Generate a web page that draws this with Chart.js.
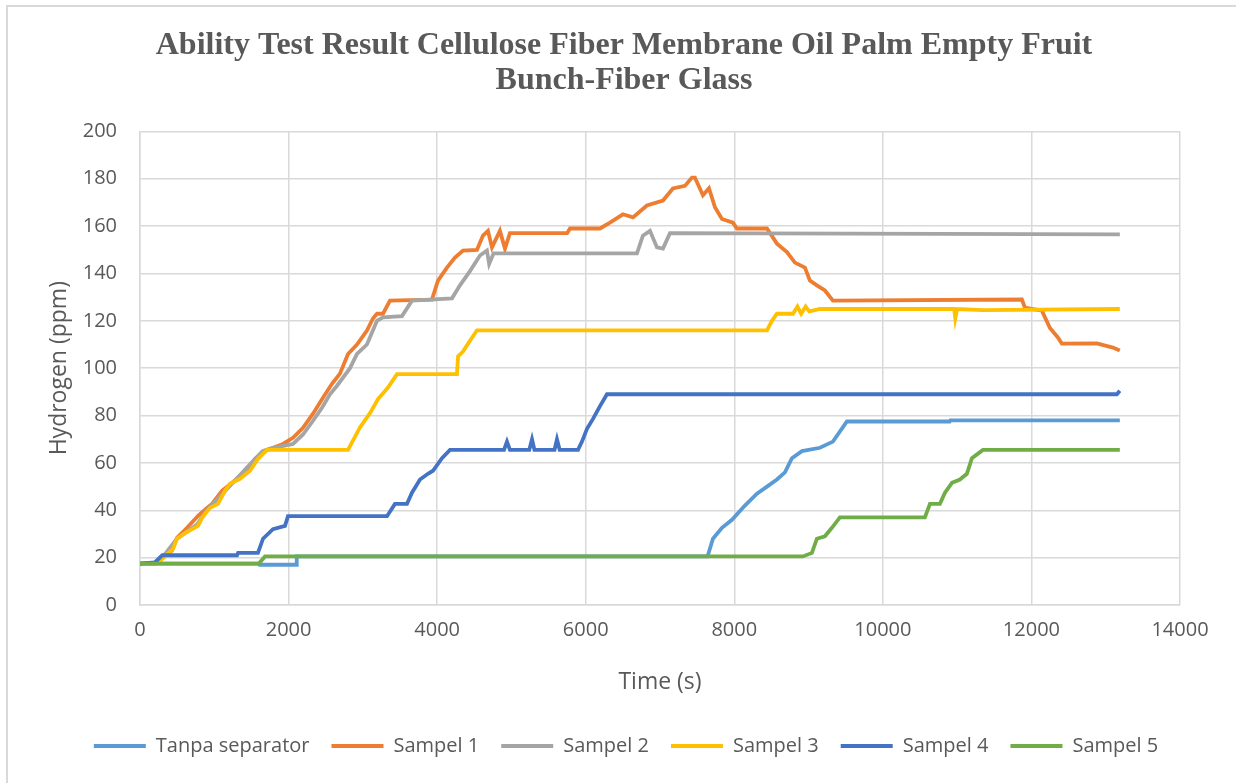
<!DOCTYPE html>
<html>
<head>
<meta charset="utf-8">
<script src="https://cdn.jsdelivr.net/npm/chart.js@4.4.1/dist/chart.umd.min.js"></script>
<style>
    html, body { margin:0; padding:0; background:#ffffff; }
    #box { position:relative; width:1236px; height:783px; }
</style>
</head>
<body>
<div id="box"><canvas id="Chart" width="1236" height="783"></canvas></div>
<script>
// data (time in s, hydrogen in ppm)
const seriesNames = ['Tanpa separator', 'Sampel 1', 'Sampel 2', 'Sampel 3', 'Sampel 4', 'Sampel 5'];
const seriesColors = ['#5B9BD5', '#ED7D31', '#A5A5A5', '#FFC000', '#4472C4', '#70AD47'];
const xTicks = [0, 2000, 4000, 6000, 8000, 10000, 12000, 14000];
const yTicks = [0, 20, 40, 60, 80, 100, 120, 140, 160, 180, 200];

const tanpaT = [0, 1600, 1610, 2100, 2110, 7640, 7713, 7834, 7969, 8143, 8305, 8440, 8574, 8682, 8776, 8911, 9153, 9328, 9516, 10900, 10910, 13190];
const tanpaH = [17.5, 17.5, 17, 17, 20.5, 20.5, 28, 32.6, 36, 42, 47, 50, 53, 56, 62, 65, 66.4, 69, 77.5, 77.5, 78, 78];

const sampel1T = [0, 200, 431, 498, 633, 781, 902, 969, 1104, 1184, 1306, 1440, 1548, 1682, 1790, 1925, 2059, 2194, 2329, 2463,
    2584, 2692, 2800, 2921, 3055, 3136, 3190, 3271, 3365, 3930, 4011, 4132, 4240, 4348, 4536, 4617, 4684, 4738, 4845, 4913,
    4980, 5750, 5788, 6192, 6326, 6501, 6636, 6824, 7040, 7174, 7336, 7430, 7470, 7578, 7659, 7740, 7834, 7982, 8036, 8440,
    8574, 8709, 8816, 8951, 9018, 9112, 9220, 9328, 11872, 11912, 12141, 12249, 12356, 12410, 12881, 13097, 13190];
const sampel1H = [17.5, 17.5, 23, 28.4, 32.6, 37.6, 41, 42.7, 48.2, 50.3, 53.3, 56.7, 61.7, 65, 66.4, 68, 70.6, 74.8, 80.8, 87.5,
    93.4, 97.7, 106, 110, 115.9, 121, 123, 123, 128.5, 129, 137, 142.5, 146.7, 149.7, 150, 156, 158, 151, 158, 150.5,
    157, 157, 159, 159, 161.5, 165, 163.7, 168.7, 170.8, 175.9, 177, 180.5, 180.5, 173, 176, 168, 163, 161.5, 159, 159,
    152.6, 149, 144.6, 142.5, 137, 135, 132.8, 128.5, 129, 125.6, 124.3, 117, 113, 110.4, 110.5, 108.7, 107.5];

const sampel2T = [0, 250, 498, 633, 767, 900, 1050, 1200, 1350, 1500, 1650, 1750, 2059, 2194, 2329, 2450, 2557, 2652, 2827, 2921,
    3055, 3190, 3271, 3527, 3661, 4200, 4307, 4442, 4576, 4670, 4700, 4760, 6690, 6770, 6865, 6959, 7040, 7134, 13190];
const sampel2H = [17.5, 18, 28, 31, 34, 40, 45, 50, 55, 60, 65, 66, 68, 72, 77.8, 83.3, 89, 92.6, 100, 106,
    110, 120, 121.5, 122, 128.5, 129.5, 135, 141, 147.6, 149.7, 144, 148.5, 148.5, 156, 158, 151, 150.5, 157, 156.5];

const sampel3T = [0, 230, 444, 498, 606, 781, 835, 942, 1050, 1144, 1211, 1346, 1481, 1588, 1709, 2800, 2961, 3096, 3204, 3338,
    3459, 4267, 4281, 4348, 4442, 4536, 8440, 8507, 8574, 8790, 8850, 8900, 8960, 9010, 9153, 10960, 10975, 11000, 11350, 13190];
const sampel3H = [17.5, 17.5, 23.7, 28, 30.4, 33.4, 36.8, 41, 42.7, 48.2, 51.2, 53.3, 56.7, 61.7, 65.5, 65.5, 75, 81, 87, 91.8,
    97.5, 97.5, 105, 107, 111.6, 116, 116, 120, 123, 123, 126, 123, 126, 124, 125, 125, 121, 125, 124.5, 125];

const sampel4T = [0, 200, 300, 1306, 1320, 1588, 1656, 1790, 1952, 1992, 3325, 3432, 3594, 3661, 3769, 3876, 3944, 4065, 4173, 4900,
    4940, 4980, 5240, 5277, 5310, 5580, 5613, 5650, 5896, 5950, 6017, 6098, 6192, 6286, 13150, 13190];
const sampel4H = [17.5, 18, 21, 21, 22, 22, 28, 32, 33.4, 37.5, 37.5, 42.7, 42.7, 47.4, 53, 55.4, 56.7, 62, 65.5, 65.5,
    69, 65.5, 65.5, 70, 65.5, 65.5, 70, 65.5, 65.5, 69, 74.4, 78.6, 84, 89, 89, 90.5];

const sampel5T = [0, 1600, 1683, 8924, 9045, 9112, 9220, 9314, 9422, 10566, 10634, 10768, 10836, 10930, 11037, 11131, 11199, 11347, 13190];
const sampel5H = [17.5, 17.5, 20.5, 20.5, 22, 28, 29, 32.6, 37, 37, 42.7, 42.7, 47.4, 51.6, 53, 55.4, 62, 65.5, 65.5];

const allT = [tanpaT, sampel1T, sampel2T, sampel3T, sampel4T, sampel5T];
const allH = [tanpaH, sampel1H, sampel2H, sampel3H, sampel4H, sampel5H];

const textColor = '#595959';
const gridColor = '#d9d9d9';

const datasets = seriesNames.map((name, i) => ({
    label: name,
    data: allT[i].map((t, k) => ({x: t, y: allH[i][k]})),
    borderColor: seriesColors[i],
    backgroundColor: seriesColors[i],
    borderWidth: 3.8,
    pointRadius: 0,
    tension: 0,
    order: seriesNames.length - i   // later series on top, like Excel
}));

// thin grey frame of the chart box (top and left edge show in the picture)
// and title / legend centred on the whole box, not only on the plot
const frame = {
    id: 'frame',
    afterLayout(chart) {
        chart.titleBlock.left = 12;
        chart.titleBlock.right = 1236;
        chart.legend.left = 41;
        chart.legend.right = 1211;
    },
    beforeDraw(chart) {
        const c = chart.ctx;
        c.save();
        c.strokeStyle = gridColor;
        c.lineWidth = 2;
        c.strokeRect(7, 6, 1236, 790);
        c.restore();
    }
};

const ctx = document.getElementById('Chart');

new Chart(ctx, {
    type: 'line',
    data: { datasets: datasets },
    plugins: [frame],
    options: {
        responsive: false,
        animation: false,
        layout: { padding: { left: 10, right: 56, top: 0, bottom: 17 } },
        scales: {
            x: {
                type: 'linear',
                min: 0,
                max: 14000,
                afterBuildTicks: s => { s.ticks = xTicks.map(v => ({value: v})); },
                afterFit: s => { s.height = 109; },
                grid: { color: gridColor, lineWidth: 1.5, drawTicks: false },
                border: { color: gridColor, width: 1.5 },
                ticks: {
                    color: textColor,
                    padding: 13,
                    maxRotation: 0,
                    callback: v => String(v),
                    font: { family: 'Open Sans', size: 20 }
                },
                title: {
                    display: true,
                    text: 'Time (s)',
                    color: textColor,
                    padding: { top: 18, bottom: 18 },
                    font: { family: 'Open Sans', size: 23 }
                }
            },
            y: {
                min: 0,
                max: 200,
                afterBuildTicks: s => { s.ticks = yTicks.map(v => ({value: v})); },
                afterFit: s => { s.width = 130; },
                grid: { color: gridColor, lineWidth: 1.5, drawTicks: false },
                border: { color: gridColor, width: 1.5 },
                ticks: {
                    color: textColor,
                    padding: 23,
                    font: { family: 'Open Sans', size: 20 }
                },
                title: {
                    display: true,
                    text: 'Hydrogen (ppm)',
                    color: textColor,
                    padding: { top: 36, bottom: 36 },
                    font: { family: 'Open Sans', size: 23 }
                }
            }
        },
        plugins: {
            title: {
                display: true,
                text: ['Ability Test Result Cellulose Fiber Membrane Oil Palm Empty Fruit', 'Bunch-Fiber Glass'],
                color: textColor,
                padding: { top: 28, bottom: 33 },
                font: { family: 'Liberation Serif', size: 32, weight: 'bold', lineHeight: 1.1 }
            },
            legend: {
                position: 'bottom',
                labels: {
                    color: textColor,
                    boxWidth: 52,
                    boxHeight: 4,
                    padding: 22,
                    font: { family: 'Open Sans', size: 20 },
                    sort: (a, b) => a.datasetIndex - b.datasetIndex,
                    generateLabels: chart => Chart.defaults.plugins.legend.labels.generateLabels(chart)
                        .map(l => Object.assign(l, { lineWidth: 0 }))
                }
            },
            tooltip: { enabled: false }
        }
    }
});
</script>
</body>
</html>
